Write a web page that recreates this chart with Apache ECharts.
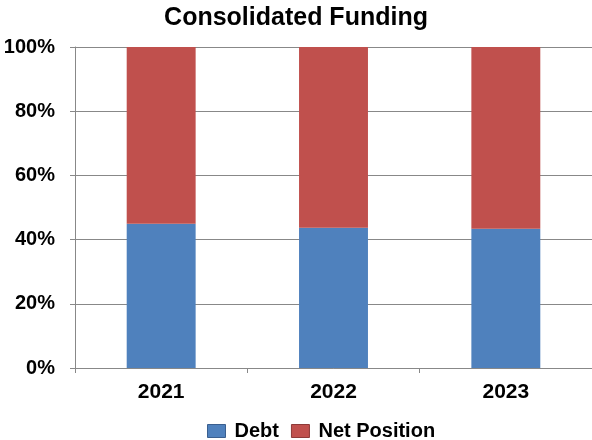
<!DOCTYPE html>
<html><head><meta charset="utf-8">
<script src="https://cdn.jsdelivr.net/npm/echarts@6/dist/echarts.min.js"></script>
<style>html,body{margin:0;padding:0;background:#fff}#c{width:592px;height:440px}</style>
</head><body><div id="c"></div>
<script>
const categories = ['2021', '2022', '2023'];
const debt = [44.9, 43.7, 43.4];
const netPosition = [55.1, 56.3, 56.6];
const yTicks = [0, 20, 40, 60, 80, 100];

const chart = echarts.init(document.getElementById('c'), null, {renderer: 'canvas'});
const font = 'Liberation Sans, Arial, sans-serif';
chart.setOption({
  animation: false,
  title: {text: 'Consolidated Funding', left: 'center', top: 1,
    textStyle: {fontFamily: font, fontSize: 25, fontWeight: 'bold', color: '#000'}},
  legend: {top: 416, left: 202, itemWidth: 18, itemHeight: 13, itemGap: 12, icon: 'rect',
    textStyle: {fontFamily: font, fontSize: 20, fontWeight: 'bold', color: '#000', padding: [0, 0, 0, 4]},
    data: [
      {name: 'Debt', itemStyle: {borderColor: '#3A5F8F', borderWidth: 1}},
      {name: 'Net Position', itemStyle: {borderColor: '#8E3A38', borderWidth: 1}}
    ]},
  grid: {left: 75, right: 0, top: 47, bottom: 72, containLabel: false},
  xAxis: {type: 'category', data: categories,
    axisLine: {lineStyle: {color: '#888', width: 1}},
    axisTick: {show: true, length: 5, alignWithLabel: false, lineStyle: {color: '#888'}},
    axisLabel: {fontFamily: font, fontSize: 21, fontWeight: 'bold', color: '#000', margin: 14}},
  yAxis: {type: 'value', min: yTicks[0], max: yTicks[yTicks.length - 1], interval: 20,
    axisLine: {show: true, lineStyle: {color: '#888'}},
    axisTick: {show: true, length: 5, lineStyle: {color: '#888'}},
    splitLine: {lineStyle: {color: '#888', width: 1}},
    axisLabel: {fontFamily: font, fontSize: 20, fontWeight: 'bold', color: '#000', margin: 20,
      formatter: v => v + '%'}},
  series: [
    {name: 'Debt', type: 'bar', stack: 'a', data: debt, barWidth: '40%',
      itemStyle: {color: '#4F81BD'}},
    {name: 'Net Position', type: 'bar', stack: 'a', data: netPosition, barWidth: '40%',
      itemStyle: {color: '#C0504D'}}
  ]
});
</script></body></html>
